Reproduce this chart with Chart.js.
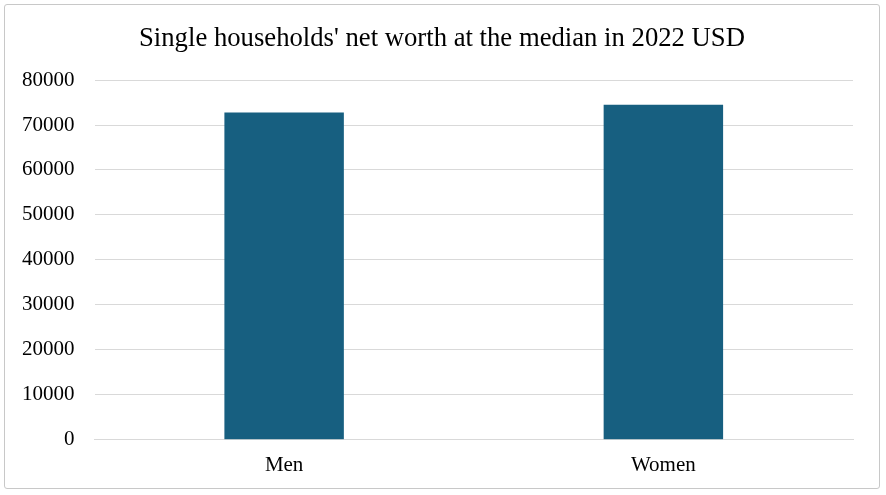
<!DOCTYPE html>
<html>
<head>
<meta charset="utf-8">
<script src="https://cdn.jsdelivr.net/npm/chart.js@4"></script>
<style>
  html, body { margin: 0; padding: 0; background: #fff; }
  #wrap {
    position: absolute; left: 4px; top: 4px; width: 876px; height: 485px;
    border: 1px solid #c8c8c8; border-radius: 3px; box-sizing: border-box;
  }
  #chart { width: 100%; height: 100%; }
</style>
</head>
<body>
<div id="wrap"><canvas id="chart"></canvas></div>
<script>
const categories = ['Men', 'Women'];
const netWorth = [72800, 74500];
const yTicks = [0, 10000, 20000, 30000, 40000, 50000, 60000, 70000, 80000];

const serif = "'Liberation Serif', 'Times New Roman', serif";

// title should sit centred on the whole frame, not on the padded area
const centreTitle = {
    id: 'centreTitle',
    afterLayout(chart) {
        const t = chart.titleBlock;
        if (!t) return;
        t.left = 0;
        t.right = chart.width;
        t.width = chart.width;
    }
};

new Chart(document.getElementById('chart'), {
    type: 'bar',
    data: {
        labels: categories,
        datasets: [{
            label: 'Net worth',
            data: netWorth,
            backgroundColor: '#175f80',
            borderWidth: 0,
            barPercentage: 0.63,
            categoryPercentage: 0.5
        }]
    },
    options: {
        responsive: true,
        maintainAspectRatio: false,
        animation: false,
        layout: { padding: { left: -3, right: 26, top: 18, bottom: 5 } },
        plugins: {
            legend: { display: false },
            tooltip: { enabled: false },
            title: {
                display: true,
                text: "Single households' net worth at the median in 2022 USD",
                color: '#000',
                font: { family: serif, size: 26.7, weight: 'normal' },
                padding: { top: 0, bottom: 25 }
            }
        },
        scales: {
            x: {
                grid: { display: false },
                border: { color: '#d9d9d9' },
                ticks: { color: '#000', font: { family: serif, size: 21 }, padding: 5 }
            },
            y: {
                min: 0,
                max: 80000,
                afterBuildTicks: axis => { axis.ticks = yTicks.map(v => ({ value: v })); },
                grid: { color: '#d9d9d9', drawTicks: false },
                border: { display: false },
                ticks: {
                    color: '#000',
                    font: { family: serif, size: 21 },
                    padding: 20,
                    callback: v => String(v)
                }
            }
        }
    },
    plugins: [centreTitle]
});
</script>
</body>
</html>
